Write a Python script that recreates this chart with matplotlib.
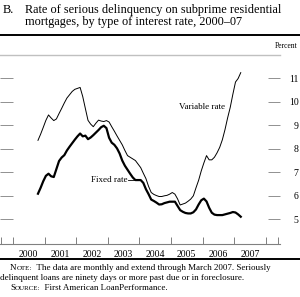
import matplotlib
matplotlib.use("Agg")
import matplotlib.pyplot as plt
import pandas as pd

plt.rcParams['font.family'] = ['Liberation Serif', 'DejaVu Serif']

# monthly, Oct 2000 - Mar 2007 (percent)
months = pd.period_range('2000-10', '2007-03', freq='M')
variable_rate = [
    8.35, 8.61, 8.90, 9.20, 9.43, 9.30, 9.19, 9.26, 9.49, 9.71, 9.94, 10.15,
    10.29, 10.43, 10.52, 10.56, 10.60, 10.21, 9.70, 9.20, 9.04, 8.93, 9.08, 9.21,
    9.17, 9.15, 9.19, 9.13, 8.93, 8.74, 8.54, 8.35, 8.16, 7.92, 7.70, 7.63,
    7.56, 7.49, 7.34, 7.19, 6.95, 6.72, 6.39, 6.13, 6.05, 6.00, 5.96, 5.96,
    5.99, 6.01, 6.06, 6.13, 6.06, 5.86, 5.60, 5.64, 5.68, 5.76, 5.85, 5.99,
    6.33, 6.65, 7.05, 7.39, 7.70, 7.52, 7.52, 7.63, 7.82, 8.05, 8.37, 8.80,
    9.30, 9.75, 10.31, 10.83, 10.98, 11.23,
]
fixed_rate = [
    6.08, 6.33, 6.61, 6.84, 6.93, 6.82, 6.79, 7.13, 7.47, 7.62, 7.72, 7.92,
    8.08, 8.23, 8.38, 8.52, 8.64, 8.52, 8.55, 8.40, 8.47, 8.57, 8.68, 8.79,
    8.91, 8.97, 8.87, 8.46, 8.25, 8.16, 8.01, 7.79, 7.49, 7.27, 7.10, 6.93,
    6.77, 6.66, 6.66, 6.66, 6.54, 6.27, 6.06, 5.83, 5.77, 5.70, 5.62, 5.63,
    5.68, 5.71, 5.74, 5.74, 5.74, 5.56, 5.38, 5.31, 5.26, 5.24, 5.24, 5.29,
    5.41, 5.62, 5.80, 5.87, 5.75, 5.48, 5.27, 5.19, 5.17, 5.17, 5.17, 5.20,
    5.23, 5.26, 5.30, 5.28, 5.20, 5.10,
]
years = list(range(2000, 2008))
y_ticks = [5, 6, 7, 8, 9, 10, 11]

x = [p.year + (p.month - 0.5) / 12 for p in months]

W, H = 300, 297
fig = plt.figure(figsize=(3.0, 2.97), dpi=100)

def fx(px):
    return px / W

def fy(py):
    return 1 - py / H

ax = fig.add_axes([0, fy(244), fx(280), fy(55) - fy(244)])
ax.plot(x, variable_rate, color='black', lw=0.7)
ax.plot(x, fixed_rate, color='black', lw=1.6)

ax.set_xlim(1999.59, 2008.45)
ax.set_ylim(3.94, 11.98)

for s in ['left', 'right']:
    ax.spines[s].set_visible(False)
ax.spines['top'].set_color('#c0c0c0')
ax.spines['top'].set_linewidth(1.0)
ax.spines['bottom'].set_color('#808080')
ax.spines['bottom'].set_linewidth(0.8)

# x axis: ticks at year boundaries, labels in between
ax.set_xticks([1999.63] + list(range(2000, 2009)) + [2008.4])
ax.set_xticklabels([])
ax.set_xticks([yr + 0.5 for yr in years], minor=True)
ax.set_xticklabels([str(yr) for yr in years], minor=True, fontsize=7)
ax.tick_params(axis='x', which='major', direction='in', length=5, width=0.7, color='#808080')
ax.tick_params(axis='x', which='minor', length=0, pad=4)

ax.set_yticks(y_ticks)
ax.set_yticklabels([str(v) for v in y_ticks], fontsize=7)
ax.tick_params(axis='y', which='both', direction='in', left=True, right=True,
               labelleft=False, labelright=True, length=9, width=0.7,
               color='#909090', pad=13.5)
for lab in ax.get_yticklabels():
    lab.set_horizontalalignment('right')

ax.text(2006.71, 9.77, 'Variable rate', fontsize=6.5, ha='right', va='center')
ax.text(2003.62, 6.66, 'Fixed rate', fontsize=6.5, ha='right', va='center')
ax.plot([2003.65, 2003.84], [6.66, 6.66], color='black', lw=0.6)

# title and rules
fig.text(fx(3), fy(10), 'B.', fontsize=8.8, va='center')
fig.text(fx(25), fy(10), 'Rate of serious delinquency on subprime residential',
         fontsize=8.8, va='center')
fig.text(fx(25), fy(22), 'mortgages, by type of interest rate, 2000\u201307',
         fontsize=8.8, va='center')
fig.add_artist(plt.Line2D([0, 1], [fy(35), fy(35)], color='black', lw=1.4))
fig.text(fx(298), fy(46), 'Percent', fontsize=5.5, ha='right', va='center')
fig.add_artist(plt.Line2D([0, 1], [fy(259), fy(259)], color='black', lw=1.4))

# notes with small caps labels
renderer = fig.canvas.get_renderer()

def small_caps_line(px, py, head, rest, size=6.5):
    t1 = fig.text(fx(px), fy(py), head[0], fontsize=size, va='center')
    e1 = t1.get_window_extent(renderer)
    t2 = fig.text(e1.x1 / W, fy(py), head[1:].upper(), fontsize=size * 0.78, va='center')
    e2 = t2.get_window_extent(renderer)
    fig.text(e2.x1 / W, fy(py), rest, fontsize=size, va='center')

small_caps_line(10, 268, 'Note:', '  The data are monthly and extend through March 2007. Seriously')
fig.text(fx(0), fy(278), 'delinquent loans are ninety days or more past due or in foreclosure.',
         fontsize=6.5, va='center')
small_caps_line(10, 288, 'Source:', '  First American LoanPerformance.')

fig.savefig('out.png', dpi=100)
